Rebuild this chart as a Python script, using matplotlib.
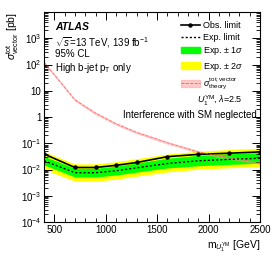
import matplotlib
matplotlib.use('Agg')
import matplotlib.pyplot as plt
from matplotlib.lines import Line2D
from matplotlib.patches import Patch
from matplotlib.ticker import MultipleLocator, LogLocator, FixedLocator, NullFormatter

plt.rcParams['font.family'] = ['Liberation Sans', 'DejaVu Sans']
plt.rcParams['mathtext.fontset'] = 'custom'
plt.rcParams['mathtext.rm'] = 'Liberation Sans'
plt.rcParams['mathtext.it'] = 'Liberation Sans:italic'
plt.rcParams['mathtext.bf'] = 'Liberation Sans:bold'

# leptoquark mass points [GeV]
mass = [400, 700, 900, 1100, 1300, 1600, 1900, 2200, 2500]

# limits [pb]
obs = [0.039, 0.012, 0.012, 0.0145, 0.0186, 0.031, 0.038, 0.042, 0.047]
exp = [0.0216, 0.0076, 0.0076, 0.009, 0.0117, 0.017, 0.0216, 0.0245, 0.027]
exp_p1 = [0.032, 0.0112, 0.0112, 0.0135, 0.0178, 0.027, 0.035, 0.040, 0.044]
exp_m1 = [0.0150, 0.0052, 0.0052, 0.0062, 0.0080, 0.0115, 0.0140, 0.0158, 0.0173]
exp_p2 = [0.048, 0.0165, 0.0165, 0.020, 0.026, 0.039, 0.050, 0.058, 0.065]
exp_m2 = [0.0102, 0.0036, 0.0036, 0.0043, 0.0056, 0.0081, 0.0103, 0.0117, 0.0130]

# theory cross-section [pb]
theory = [120, 4.5, 1.4, 0.55, 0.26, 0.105, 0.047, 0.028, 0.018]
theory_up = [t * 1.12 for t in theory]
theory_dn = [t * 0.88 for t in theory]

fig = plt.figure(figsize=(2.74, 2.66), dpi=100)
ax = fig.add_axes([0.161, 0.165, 0.788, 0.79])

ax.fill_between(mass, exp_m2, exp_p2, color='#ffff00', lw=0)
ax.fill_between(mass, exp_m1, exp_p1, color='#00ff00', lw=0)
ax.plot(mass, exp, color='black', ls=(0, (1.5, 1.5)), lw=1)
ax.plot(mass, obs, color='black', lw=1.2, marker='o', ms=2.2)
ax.fill_between(mass, theory_dn, theory_up, color='#ff9999', alpha=0.5, lw=0)
ax.plot(mass, theory, color='#ff5555', ls='--', lw=0.6, alpha=0.8)

ax.set_yscale('log')
ax.set_xlim(400, 2500)
ax.set_ylim(1e-4, 1e4)

ax.xaxis.set_major_locator(FixedLocator([500, 1000, 1500, 2000, 2500]))
ax.xaxis.set_minor_locator(MultipleLocator(100))
ax.yaxis.set_minor_locator(LogLocator(base=10, subs=range(2, 10), numticks=100))
ax.yaxis.set_minor_formatter(NullFormatter())
yt = [1e-4, 1e-3, 1e-2, 1e-1, 1, 10, 1e2, 1e3]
ax.set_yticks(yt)
ax.set_yticklabels([r'$10^{-4}$', r'$10^{-3}$', r'$10^{-2}$', r'$10^{-1}$', '1', '10',
                    r'$10^{2}$', r'$10^{3}$'])
ax.tick_params(which='both', direction='in', top=True, right=True, labelsize=7, pad=2)
ax.tick_params(which='major', length=6, width=0.7)
ax.tick_params(which='minor', length=3, width=0.6)
for s in ax.spines.values():
    s.set_linewidth(0.8)

ax.set_xlabel(r'$\mathrm{m}_{U_1^{\mathrm{YM}}}$ [GeV]', fontsize=7.5, loc='right', labelpad=2)
ax.set_ylabel(r'$\sigma^{\mathrm{tot}}_{\mathrm{vector}}$ [pb]', fontsize=7.5, loc='top', labelpad=0)

ax.text(0.05, 0.93, 'ATLAS', transform=ax.transAxes, fontsize=7.5, fontweight='bold',
        style='italic', va='center')
ax.text(0.05, 0.855, r'$\sqrt{s}$=13 TeV, 139 fb$^{-1}$', transform=ax.transAxes,
        fontsize=7, va='center')
ax.text(0.05, 0.80, '95% CL', transform=ax.transAxes, fontsize=7, va='center')
ax.text(0.05, 0.735, r'High b-jet p$_{\mathrm{T}}$ only', transform=ax.transAxes,
        fontsize=7, va='center')

handles = [
    Line2D([], [], color='black', lw=1.2, marker='o', ms=2.2),
    Line2D([], [], color='black', ls=(0, (1.5, 1.5)), lw=1),
    Patch(color='#00ff00'),
    Patch(color='#ffff00'),
    (Patch(color='#ff9999', alpha=0.5), Line2D([], [], color='#ff5555', ls='--', lw=0.6)),
]
labels = ['Obs. limit', 'Exp. limit', r'Exp. $\pm$ 1$\sigma$', r'Exp. $\pm$ 2$\sigma$',
          r'$\sigma^{\mathrm{tot,vector}}_{\mathrm{theory}}$']
ax.legend(handles, labels, loc='upper left', bbox_to_anchor=(0.615, 0.975), frameon=False,
          fontsize=6.5, handlelength=2.2, handletextpad=0.3, labelspacing=0.36,
          borderaxespad=0)
ax.text(0.708, 0.578, r'$U_1^{\mathrm{YM}}$, $\lambda$=2.5', transform=ax.transAxes,
        fontsize=6.5, va='center')
ax.text(0.985, 0.510, 'Interference with SM neglected', transform=ax.transAxes,
        fontsize=7, va='center', ha='right')

fig.savefig('out.png', dpi=100)
